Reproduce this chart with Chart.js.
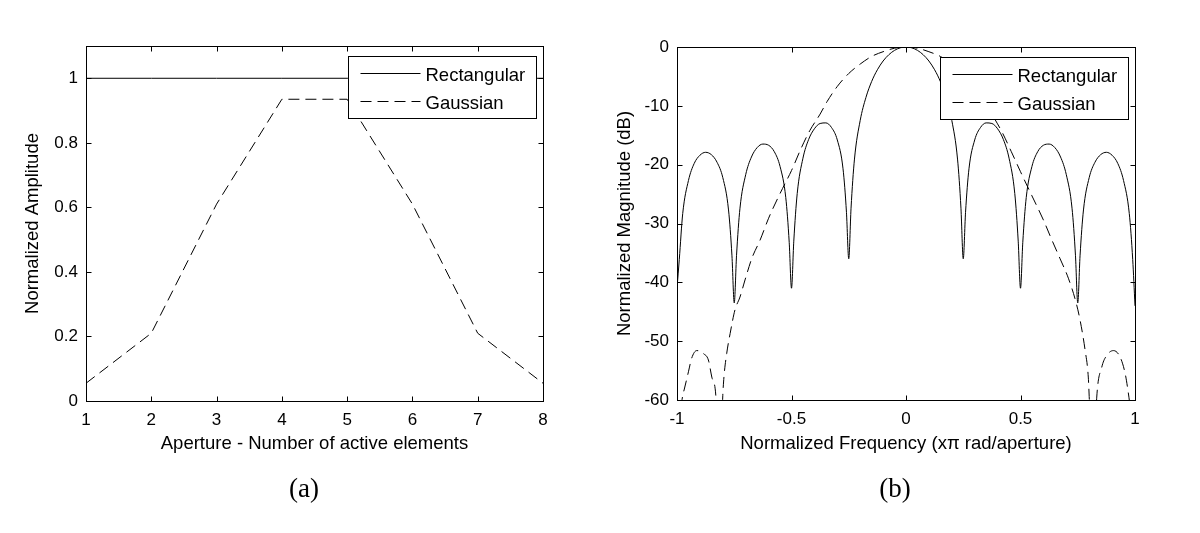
<!DOCTYPE html>
<html>
<head>
<meta charset="utf-8">
<script src="https://cdn.jsdelivr.net/npm/chart.js@4.4.0/dist/chart.umd.min.js"></script>
<style>
body { margin: 0; background: #fff; }
#wrap { position: relative; width: 1200px; height: 533px; overflow: hidden; }
canvas { position: absolute; top: 0; }
.cap { position: absolute; font-family: 'Liberation Serif', 'Times New Roman', serif; font-size: 27px; color: #000; transform: translate(-50%, -50%); }
</style>
</head>
<body>
<div id="wrap">
  <canvas id="amp" width="600" height="533" style="left:0"></canvas>
  <canvas id="mag" width="600" height="533" style="left:600px"></canvas>
  <div class="cap" style="left:304px;top:488px">(a)</div>
  <div class="cap" style="left:895px;top:488px">(b)</div>
</div>
<script>
// (a) aperture weights
var elements = [1, 2, 3, 4, 5, 6, 7, 8];
var rectAmp = [1, 1, 1, 1, 1, 1, 1, 1];
var gaussAmp = [0.055, 0.21, 0.61, 0.935, 0.935, 0.61, 0.21, 0.055];

// (b) beam pattern (dB)
var rectFreq = [-1, -0.99, -0.975, -0.95, -0.925, -0.9, -0.875, -0.85, -0.825, -0.8,
  -0.775, -0.76, -0.75, -0.74, -0.725, -0.7, -0.675, -0.65, -0.625, -0.6,
  -0.575, -0.55, -0.525, -0.51, -0.5, -0.49, -0.475, -0.45, -0.425, -0.4,
  -0.375, -0.35, -0.325, -0.3, -0.275, -0.26, -0.25, -0.24, -0.225, -0.2,
  -0.175, -0.15, -0.125, -0.1, -0.075, -0.05, -0.025, 0,
  0.025, 0.05, 0.075, 0.1, 0.125, 0.15, 0.175, 0.2, 0.225, 0.24,
  0.25, 0.26, 0.275, 0.3, 0.325, 0.35, 0.375, 0.4, 0.425, 0.45,
  0.475, 0.49, 0.5, 0.51, 0.525, 0.55, 0.575, 0.6, 0.625, 0.65,
  0.675, 0.7, 0.725, 0.74, 0.75, 0.76, 0.775, 0.8, 0.825, 0.85,
  0.875, 0.9, 0.925, 0.95, 0.975, 0.99, 1];
var rectDb = [-41, -36.1, -28.3, -22.7, -19.8, -18.4, -17.9, -18.3, -19.6, -22.2,
  -27.7, -35.5, -43.5, -35.4, -27.4, -21.7, -18.7, -17.1, -16.5, -16.7,
  -17.8, -20.3, -25.6, -33.2, -41, -33.0, -24.9, -18.9, -15.7, -13.9,
  -13.0, -12.9, -13.7, -15.8, -20.7, -28.1, -36, -27.4, -19.05, -12.48,
  -8.58, -5.86, -3.87, -2.38, -1.31, -0.57, -0.14, 0,
  -0.14, -0.57, -1.31, -2.38, -3.87, -5.86, -8.58, -12.48, -19.05, -27.4,
  -36, -28.1, -20.7, -15.8, -13.7, -12.9, -13.0, -13.9, -15.7, -18.9,
  -24.9, -33.0, -41, -33.2, -25.6, -20.3, -17.8, -16.7, -16.5, -17.1,
  -18.7, -21.7, -27.4, -35.4, -43.5, -35.5, -27.7, -22.2, -19.6, -18.3,
  -17.9, -18.4, -19.8, -22.7, -28.3, -36.1, -44];

var gaussFreq = [-1, -0.99, -0.975, -0.969, -0.95, -0.936, -0.914, -0.9, -0.885, -0.863,
  -0.848, -0.83, -0.815, -0.8, -0.795, -0.783, -0.768, -0.747, -0.725, -0.703,
  -0.673, -0.637, -0.6, -0.55, -0.5, -0.46, -0.42, -0.375, -0.345, -0.3,
  -0.25, -0.2, -0.15, -0.1, -0.05, 0,
  0.05, 0.1, 0.15, 0.2, 0.25, 0.3, 0.345, 0.375, 0.42, 0.46,
  0.5, 0.55, 0.6, 0.637, 0.673, 0.709, 0.741, 0.76, 0.782, 0.796,
  0.8, 0.816, 0.833, 0.855, 0.877, 0.906, 0.935, 0.957, 0.969, 0.98,
  0.99, 1];
var gaussDb = [-70, -64, -59.2, -58.3, -55.2, -52.9, -51.6, -51.7, -52.1, -53.2,
  -56.1, -59.5, -75, -59.2, -56.1, -52.1, -48.7, -44.7, -42.5, -39.6,
  -35.9, -32.8, -29.1, -24.9, -21.0, -17.4, -14.2, -11.4, -9.3, -6.7,
  -4.5, -2.9, -1.6, -0.8, -0.2, 0,
  -0.2, -0.8, -1.6, -2.9, -4.5, -6.7, -9.3, -11.4, -14.5, -17.8,
  -21.2, -25.3, -29.4, -32.8, -36.0, -39.3, -43.2, -46.4, -51.5, -56.1,
  -59.4, -75, -59.5, -54.4, -52.4, -51.6, -52.7, -55.5, -58.3, -61.5,
  -65, -70];

var xTicksA = [1, 2, 3, 4, 5, 6, 7, 8];
var yTicksA = [0, 0.2, 0.4, 0.6, 0.8, 1];
var xTicksB = [-1, -0.5, 0, 0.5, 1];
var yTicksB = [-60, -50, -40, -30, -20, -10, 0];

var FONT = "'Liberation Sans', Arial, Helvetica, sans-serif";
Chart.defaults.font.family = FONT;
Chart.defaults.font.size = 18.5;
Chart.defaults.color = '#000';

function pts(xs, ys) {
  return xs.map(function(v, i) { return {x: v, y: ys[i]}; });
}

// matlab style box with inward ticks on all four sides
var boxTicks = {
  id: 'boxTicks',
  afterDatasetsDraw: function(chart) {
    var ctx = chart.ctx, a = chart.chartArea;
    var sx = chart.scales.x, sy = chart.scales.y;
    var l = Math.round(a.left) + 0.5, r = Math.round(a.right) + 0.5;
    var t = Math.round(a.top) + 0.5, b = Math.round(a.bottom) + 0.5;
    ctx.save();
    ctx.strokeStyle = '#000';
    ctx.lineWidth = 1;
    ctx.beginPath();
    sx.ticks.forEach(function(tk) {
      var px = Math.round(sx.getPixelForValue(tk.value)) + 0.5;
      ctx.moveTo(px, b); ctx.lineTo(px, b - 5);
      ctx.moveTo(px, t); ctx.lineTo(px, t + 5);
    });
    sy.ticks.forEach(function(tk) {
      var py = Math.round(sy.getPixelForValue(tk.value)) + 0.5;
      ctx.moveTo(l, py); ctx.lineTo(l + 5, py);
      ctx.moveTo(r, py); ctx.lineTo(r - 5, py);
    });
    ctx.stroke();
    ctx.strokeRect(l, t, r - l, b - t);
    ctx.restore();
  }
};

var boxLegend = {
  id: 'boxLegend',
  afterDraw: function(chart) {
    var ctx = chart.ctx, a = chart.chartArea;
    var w = 188, h = 62;
    var left = Math.round(a.right - 7 - w) + 0.5;
    var top = Math.round(a.top + 10) + 0.5;
    ctx.save();
    ctx.fillStyle = '#fff';
    ctx.fillRect(left, top, w, h);
    ctx.strokeStyle = '#000';
    ctx.lineWidth = 1;
    ctx.strokeRect(left, top, w, h);
    chart.data.datasets.forEach(function(ds, i) {
      var yy = Math.round(top + 16 + i * 28) + 0.5;
      ctx.beginPath();
      ctx.setLineDash(ds.borderDash || []);
      ctx.moveTo(left + 12, yy);
      ctx.lineTo(left + 72, yy);
      ctx.stroke();
      ctx.setLineDash([]);
      ctx.fillStyle = '#000';
      ctx.font = '18.5px ' + FONT;
      ctx.textBaseline = 'middle';
      ctx.fillText(ds.label, left + 77, yy + 2);
    });
    ctx.restore();
  }
};

function axis(min, max, step, tickList, title, isX, size, titlePad) {
  return {
    type: 'linear',
    min: min,
    max: max,
    afterFit: function(s) { if (isX) s.height = size; else s.width = size; },
    afterBuildTicks: function(s) { s.ticks = tickList.map(function(v) { return {value: v}; }); },
    grid: {display: false, drawTicks: false},
    border: {display: false},
    ticks: {
      stepSize: step,
      padding: isX ? 9 : 8,
      color: '#000',
      font: {size: 17},
      callback: function(v) { return String(v); }
    },
    title: {display: true, text: title, color: '#000', padding: titlePad}
  };
}

new Chart(document.getElementById('amp').getContext('2d'), {
  type: 'line',
  data: {
    datasets: [
      {label: 'Rectangular', data: pts(elements, rectAmp), borderColor: '#000', borderWidth: 1, pointRadius: 0},
      {label: 'Gaussian', data: pts(elements, gaussAmp), borderColor: '#000', borderWidth: 1, borderDash: [11, 6], pointRadius: 0}
    ]
  },
  options: {
    responsive: false,
    animation: false,
    devicePixelRatio: 1,
    layout: {padding: {left: 0, top: 46, right: 57, bottom: 0}},
    plugins: {legend: {display: false}, tooltip: {enabled: false}},
    scales: {
      x: axis(1, 8, 1, xTicksA, 'Aperture - Number of active elements', true, 132, {top: 0, bottom: 78}),
      y: axis(0, 1.1, 0.2, yTicksA, 'Normalized Amplitude', false, 86, {top: 22, bottom: 0})
    }
  },
  plugins: [boxTicks, boxLegend]
});

new Chart(document.getElementById('mag').getContext('2d'), {
  type: 'line',
  data: {
    datasets: [
      {label: 'Rectangular', data: pts(rectFreq, rectDb), borderColor: '#000', borderWidth: 1, pointRadius: 0, cubicInterpolationMode: 'monotone', clip: 0},
      {label: 'Gaussian', data: pts(gaussFreq, gaussDb), borderColor: '#000', borderWidth: 1, borderDash: [11, 6], pointRadius: 0, cubicInterpolationMode: 'monotone', clip: 0}
    ]
  },
  options: {
    responsive: false,
    animation: false,
    devicePixelRatio: 1,
    layout: {padding: {left: 0, top: 47, right: 65, bottom: 0}},
    plugins: {legend: {display: false}, tooltip: {enabled: false}},
    scales: {
      x: axis(-1, 1, 0.5, xTicksB, 'Normalized Frequency (x\u03c0 rad/aperture)', true, 133, {top: 0, bottom: 78}),
      y: axis(-60, 0, 10, yTicksB, 'Normalized Magnitude (dB)', false, 77, {top: 14, bottom: 0})
    }
  },
  plugins: [boxTicks, boxLegend]
});
</script>
</body>
</html>
